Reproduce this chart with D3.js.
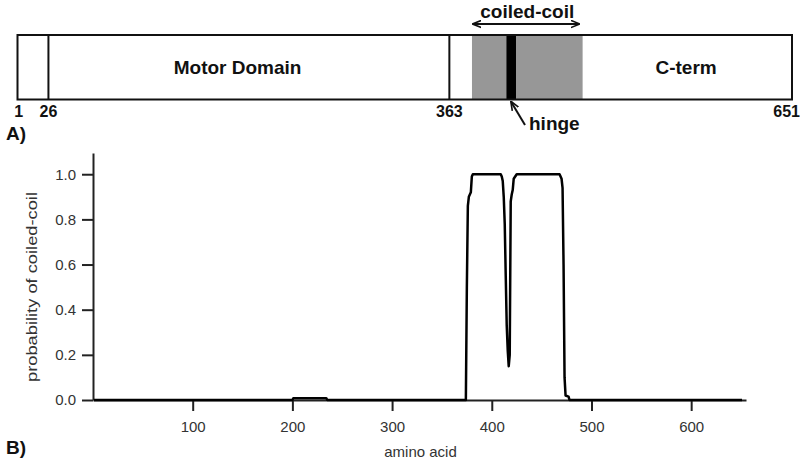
<!DOCTYPE html>
<html>
<head>
<meta charset="utf-8">
<script src="https://cdn.jsdelivr.net/npm/d3@7"></script>
<style>
  body { margin: 0; background: #fff; }
  svg { display: block; font-family: "Liberation Sans", Arial, sans-serif; }
</style>
</head>
<body>
<svg width="800" height="464"></svg>
<script>
// --- panel A: domain map of the protein ---
var proteinLength = 651;
var boundaryMarks = [26, 363];          // vertical divider lines
var positionLabels = [1, 26, 363, 651];
var coiledCoil = [382, 475];
var hinge = [411, 419];
var domainNames = [{name: "Motor Domain", at: 185}, {name: "C-term", at: 562}];

// --- panel B: coiled-coil prediction (amino acid, probability) ---
var aminoAcid = [1, 200, 201, 234, 235, 374, 375, 376, 377, 379, 380, 381, 409, 410, 411, 412, 413,
  414, 415, 416, 417, 418, 419, 420, 421, 422, 425, 468, 469, 470, 471, 472, 473, 474, 477, 478, 651];
var probability = [0, 0, 0.008, 0.008, 0, 0, 0.5, 0.86, 0.9, 0.92, 0.99, 1, 1, 0.99, 0.97, 0.9, 0.78,
  0.55, 0.33, 0.22, 0.15, 0.2, 0.88, 0.91, 0.93, 0.98, 1, 1, 0.99, 0.98, 0.94, 0.6, 0.1, 0.02, 0.015, 0, 0];
var xTicks = [100, 200, 300, 400, 500, 600];
var yTicks = [0, 0.2, 0.4, 0.6, 0.8, 1.0];

var svg = d3.select("svg");
var ink = "#111";

// ---------- panel A ----------
var xa = d3.scaleLinear().domain([0, proteinLength]).range([17.5, 792]);
var boxTop = 35, boxBottom = 99.5;
var gA = svg.append("g");

gA.append("rect")
  .attr("x", xa(coiledCoil[0])).attr("y", boxTop)
  .attr("width", xa(coiledCoil[1]) - xa(coiledCoil[0])).attr("height", boxBottom - boxTop)
  .attr("fill", "#979797");
gA.append("rect")
  .attr("x", xa(hinge[0])).attr("y", boxTop)
  .attr("width", xa(hinge[1]) - xa(hinge[0])).attr("height", boxBottom - boxTop)
  .attr("fill", "#000");
gA.append("rect")
  .attr("x", xa(0)).attr("y", boxTop)
  .attr("width", xa(proteinLength) - xa(0)).attr("height", boxBottom - boxTop)
  .attr("fill", "none").attr("stroke", ink).attr("stroke-width", 2);
gA.selectAll(".divider").data(boundaryMarks).enter().append("line")
  .attr("x1", d => xa(d)).attr("x2", d => xa(d))
  .attr("y1", boxTop).attr("y2", boxBottom)
  .attr("stroke", ink).attr("stroke-width", 2);

gA.selectAll(".dname").data(domainNames).enter().append("text")
  .attr("x", d => xa(d.at)).attr("y", 74)
  .attr("text-anchor", "middle")
  .attr("font-size", 19).attr("font-weight", "bold").attr("fill", ink)
  .text(d => d.name);

gA.selectAll(".pos").data(positionLabels).enter().append("text")
  .attr("x", d => d === proteinLength ? 800 : xa(d))
  .attr("y", 117)
  .attr("text-anchor", d => d === proteinLength ? "end" : "middle")
  .attr("font-size", 16).attr("font-weight", "bold").attr("fill", ink)
  .text(d => d);

// arrow markers
var defs = svg.append("defs");
defs.append("marker").attr("id", "head").attr("viewBox", "0 0 10 10")
  .attr("refX", 9).attr("refY", 5).attr("markerWidth", 9).attr("markerHeight", 9)
  .attr("markerUnits", "userSpaceOnUse").attr("orient", "auto-start-reverse")
  .append("path").attr("d", "M0,1 L10,5 L0,9").attr("fill", "none")
  .attr("stroke", ink).attr("stroke-width", 1.8);

gA.append("line")
  .attr("x1", xa(383)).attr("x2", xa(472)).attr("y1", 24).attr("y2", 24)
  .attr("stroke", ink).attr("stroke-width", 2)
  .attr("marker-start", "url(#head)").attr("marker-end", "url(#head)");
gA.append("text")
  .attr("x", xa(428.5)).attr("y", 18).attr("text-anchor", "middle")
  .attr("font-size", 19).attr("font-weight", "bold").attr("fill", ink)
  .text("coiled-coil");

gA.append("line")
  .attr("x1", 525).attr("y1", 125).attr("x2", xa(415)).attr("y2", 102)
  .attr("stroke", ink).attr("stroke-width", 2)
  .attr("marker-end", "url(#head)");
gA.append("text")
  .attr("x", 529).attr("y", 130)
  .attr("font-size", 19).attr("font-weight", "bold").attr("fill", ink)
  .text("hinge");

svg.append("text").attr("x", 6).attr("y", 140)
  .attr("font-size", 19).attr("font-weight", "bold").attr("fill", ink).text("A)");
svg.append("text").attr("x", 6).attr("y", 454)
  .attr("font-size", 19).attr("font-weight", "bold").attr("fill", ink).text("B)");

// ---------- panel B ----------
var x = d3.scaleLinear().domain([0, 655]).range([93, 746]);
var y = d3.scaleLinear().domain([0, 1.094]).range([400, 153]);

var xAxis = d3.axisBottom(x).tickValues(xTicks).tickSize(11).tickSizeOuter(0).tickPadding(10);
var yAxis = d3.axisLeft(y).tickValues(yTicks).tickSize(11).tickSizeOuter(0).tickPadding(6)
  .tickFormat(d3.format(".1f"));

var gx = svg.append("g").attr("transform", "translate(0,400)").call(xAxis);
var gy = svg.append("g").attr("transform", "translate(93,0)").call(yAxis);
[gx, gy].forEach(function(g) {
  g.select(".domain").attr("stroke", "#222").attr("stroke-width", 2);
  g.selectAll(".tick line").attr("stroke", "#222").attr("stroke-width", 2);
  g.selectAll(".tick text").attr("font-size", 15).attr("fill", "#333")
    .attr("font-family", "\"Liberation Sans\", Arial, sans-serif");
});

var points = aminoAcid.map((a, i) => [a, probability[i]]);
var line = d3.line().x(d => x(d[0])).y(d => y(d[1]));
svg.append("path").datum(points)
  .attr("d", line).attr("fill", "none")
  .attr("stroke", "#000").attr("stroke-width", 2.5).attr("stroke-linejoin", "round");

svg.append("text")
  .attr("x", 420.5).attr("y", 457).attr("text-anchor", "middle")
  .attr("font-size", 15).attr("fill", "#333").text("amino acid");
svg.append("text")
  .attr("transform", "translate(37,287) rotate(-90)")
  .attr("text-anchor", "middle")
  .attr("font-size", 14).attr("fill", "#333")
  .attr("textLength", 190).attr("lengthAdjust", "spacingAndGlyphs")
  .text("probability of coiled-coil");
</script>
</body>
</html>
